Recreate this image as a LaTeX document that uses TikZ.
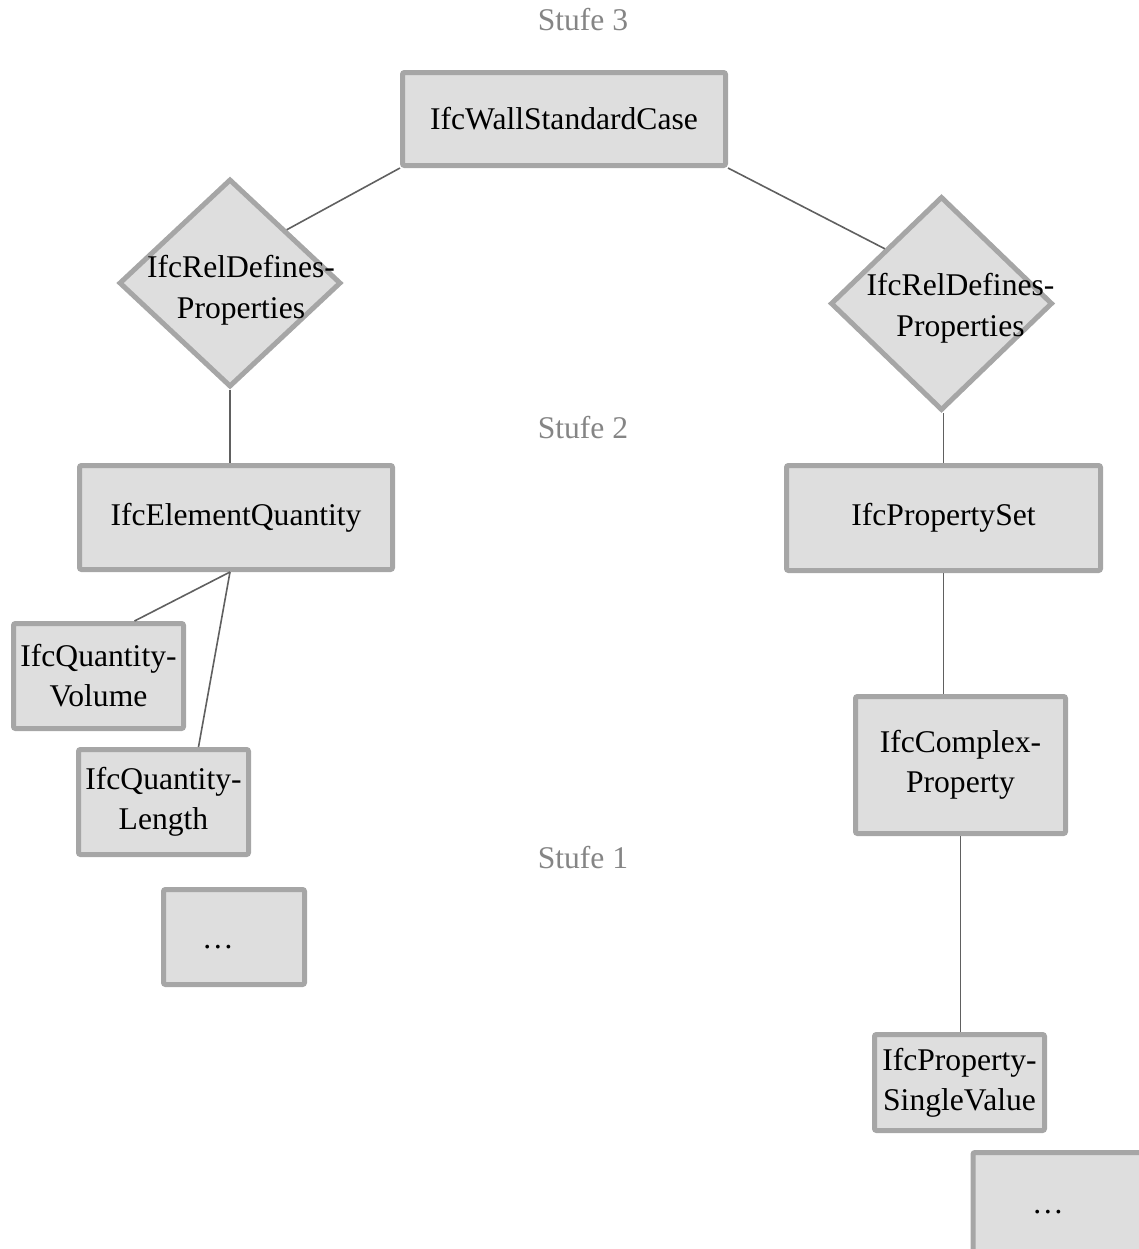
\documentclass[tikz,border=0pt]{standalone}
\usepackage{fontspec}
\setmainfont{Liberation Serif}
\usetikzlibrary{positioning,calc,shapes.geometric}
\definecolor{rahmen}{HTML}{A6A6A6}
\definecolor{fuell}{HTML}{DEDEDE}
\definecolor{linie}{HTML}{606060}
\definecolor{stufegrau}{HTML}{858585}
\tikzset{
  kasten/.style={rectangle,draw=rahmen,fill=fuell,line width=2.5pt,rounded corners=1pt,inner sep=0pt,align=center,font=\fontsize{15.8}{20}\selectfont},
  raute/.style={diamond,draw=rahmen,fill=fuell,line width=2.5pt,inner sep=0pt},
  rtext/.style={align=center,inner sep=0pt,font=\fontsize{15.8}{20.5}\selectfont},
  stufe/.style={text=stufegrau,inner sep=0pt,font=\fontsize{15.8}{20}\selectfont},
  kante/.style={draw=linie,line width=0.8pt},
}
\begin{document}
\begin{tikzpicture}[x=0.5pt,y=-0.5pt]
  \useasboundingbox (0,0) rectangle (1139,1249);
  % Stufen
  \node[stufe] (s3) at (583,20) {Stufe 3};
  \node[stufe] (s2) at (583,428) {Stufe 2};
  \node[stufe] (s1) at (583,858) {Stufe 1};
  % Stufe 3
  \node[kasten,minimum width=161.5pt,minimum height=46.5pt] (wall) at (564,119) {IfcWallStandardCase};
  \node[raute,minimum width=111pt,minimum height=104pt,
    label={[rtext,xshift=5.5pt,yshift=-3.5pt]center:IfcRelDefines-\\Properties}] (relL) at (230,283) {};
  \node[raute,minimum width=111pt,minimum height=107pt,
    label={[rtext,xshift=9.5pt,yshift=-2.5pt]center:IfcRelDefines-\\Properties}] (relR) at (941.5,303.5) {};
  % Stufe 2
  \node[kasten,minimum width=156.5pt,minimum height=52pt] (eq) at (236,517.5) {IfcElementQuantity};
  \node[kasten,minimum width=157pt,minimum height=52.5pt] (pset) at (943.5,518) {IfcPropertySet};
  % Stufe 1
  \node[kasten,minimum width=85pt,minimum height=52.5pt] (vol) at (98.5,676) {IfcQuantity-\\Volume};
  \node[kasten,minimum width=85pt,minimum height=52.5pt] (len) at (163.5,802) {IfcQuantity-\\Length};
  \node[kasten,minimum width=70.5pt,minimum height=47.5pt,
    label={[rtext,xshift=-8pt,yshift=-5pt]center:\dots}] (restL) at (234,937) {};
  \node[kasten,minimum width=105pt,minimum height=68.5pt] (cplx) at (960.5,765) {IfcComplex-\\Property};
  \node[kasten,minimum width=85pt,minimum height=48pt] (single) at (959.5,1082.5) {IfcProperty-\\SingleValue};
  \node[kasten,minimum width=95pt,minimum height=55.5pt,
    label={[rtext,xshift=-10pt,yshift=-2pt]center:\dots}] (restR) at (1068,1208) {};
  % Verbindungen
  \coordinate (eqfoot) at ($(eq.south)+(-6,0)$);
  \coordinate (volkopf) at ($(vol.north)+(36,0)$);
  \coordinate (lenkopf) at ($(len.north)+(35,0)$);
  \draw[kante] (wall.south west) -- (relL.north east);
  \draw[kante] (wall.south east) -- (relR.north west);
  \draw[kante] (relL.south) -- (relL.south |- eq.north);
  \draw[kante] (pset.north |- relR.south) -- (pset.north);
  \draw[kante] (pset.south) -- (pset.south |- cplx.north);
  \draw[kante] (cplx.south) -- (cplx.south |- single.north);
  \draw[kante] (eqfoot) -- (volkopf);
  \draw[kante] (eqfoot) -- (lenkopf);
\end{tikzpicture}
\end{document}
